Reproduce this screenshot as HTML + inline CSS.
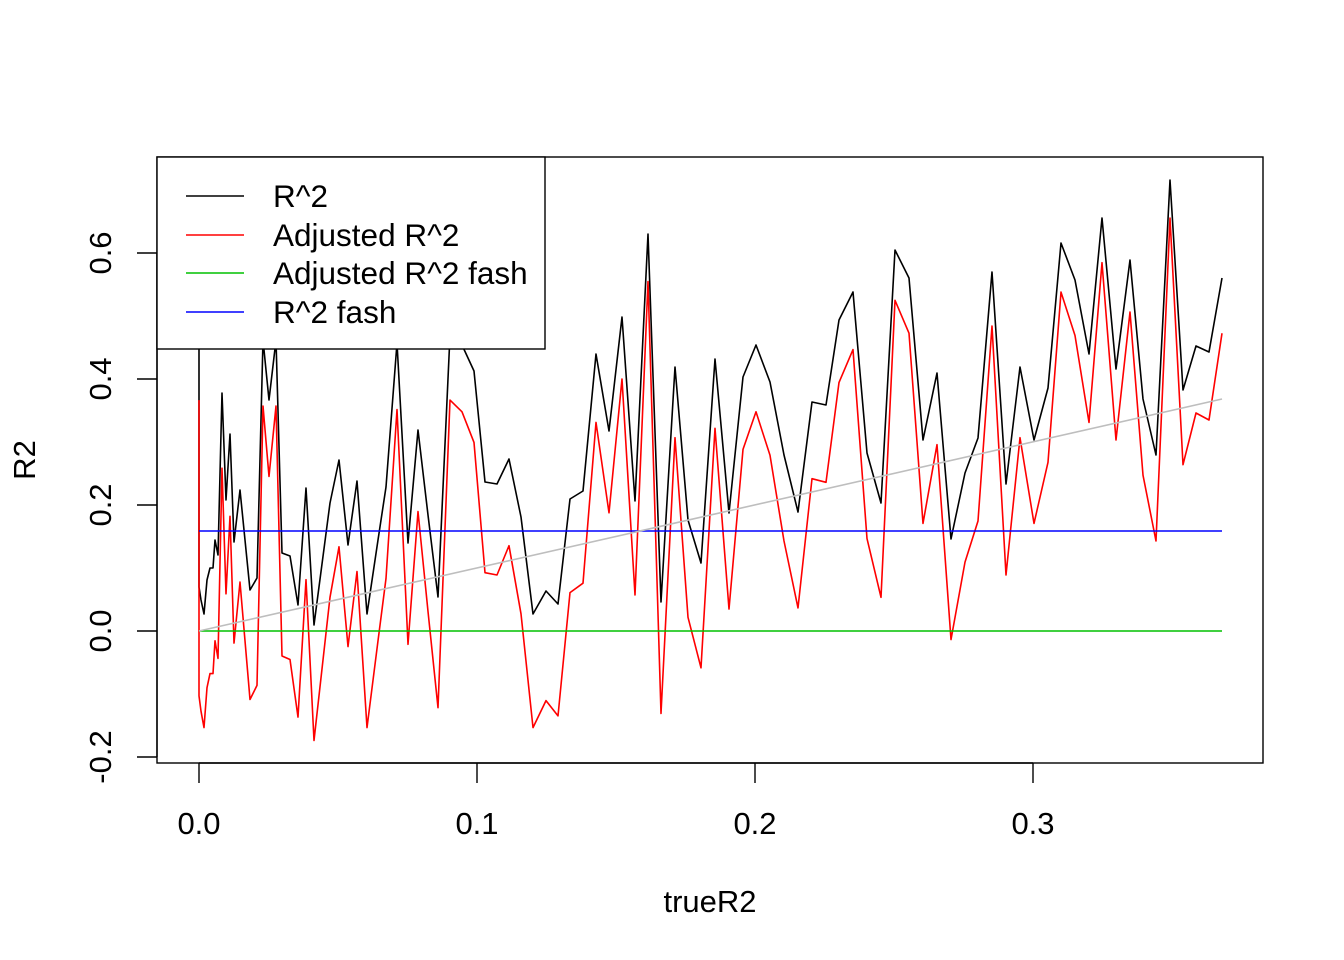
<!DOCTYPE html>
<html><head><meta charset="utf-8"><style>
html,body{margin:0;padding:0;background:#fff;}
svg{display:block;font-family:"Liberation Sans",Arial,sans-serif;}
</style></head><body>
<svg id="s" width="1344" height="960" viewBox="0 0 1344 960" xmlns="http://www.w3.org/2000/svg">
<rect width="1344" height="960" fill="#fff"/>
<g id="lines"></g>
<line x1="199" y1="631" x2="1222" y2="631" stroke="#00c000" stroke-width="1.6"/>
<line x1="199" y1="531" x2="1222" y2="531" stroke="#0000ff" stroke-width="1.6"/>
<line x1="199" y1="631" x2="1222" y2="399" stroke="#bebebe" stroke-width="1.6"/>
<rect x="157" y="157" width="1106" height="606" fill="none" stroke="#000" stroke-width="1.4"/>
<g stroke="#000" stroke-width="1.4">
<line x1="199" y1="763" x2="1033" y2="763"/>
<line x1="199" y1="763" x2="199" y2="783"/><line x1="477" y1="763" x2="477" y2="783"/>
<line x1="755" y1="763" x2="755" y2="783"/><line x1="1033" y1="763" x2="1033" y2="783"/>
<line x1="157" y1="253" x2="157" y2="757"/>
<line x1="137" y1="757" x2="157" y2="757"/><line x1="137" y1="631" x2="157" y2="631"/>
<line x1="137" y1="505" x2="157" y2="505"/><line x1="137" y1="379" x2="157" y2="379"/>
<line x1="137" y1="253" x2="157" y2="253"/>
</g>
<g font-size="31" text-anchor="middle" fill="#000">
<text x="199" y="834">0.0</text><text x="477" y="834">0.1</text>
<text x="755" y="834">0.2</text><text x="1033" y="834">0.3</text>
<text transform="translate(111,757) rotate(-90)">-0.2</text>
<text transform="translate(111,631) rotate(-90)">0.0</text>
<text transform="translate(111,505) rotate(-90)">0.2</text>
<text transform="translate(111,379) rotate(-90)">0.4</text>
<text transform="translate(111,253) rotate(-90)">0.6</text>
<text x="710" y="912">trueR2</text>
<text transform="translate(35,460) rotate(-90)">R2</text>
</g>
<rect x="157" y="157" width="388" height="192" fill="#fff" stroke="#000" stroke-width="1.4"/>
<g stroke-width="1.6">
<line x1="186" y1="196" x2="244" y2="196" stroke="#000"/>
<line x1="186" y1="235" x2="244" y2="235" stroke="#ff0000"/>
<line x1="186" y1="273" x2="244" y2="273" stroke="#00c000"/>
<line x1="186" y1="312" x2="244" y2="312" stroke="#0000ff"/>
</g>
<g font-size="31.5" fill="#000">
<text x="273" y="207">R^2</text>
<text x="273" y="246">Adjusted R^2</text>
<text x="273" y="284">Adjusted R^2 fash</text>
<text x="273" y="323">R^2 fash</text>
</g>
</svg>
<script>
var b=[[199,335],[199,587],[201,600],[204,614],[207,580],[210,568],[213,568],[215,540],[218,555],[222,393],[226,500],[230,434],[234,542],[240,490],[250,590],[257,578],[263,340],[269,400],[276,340],[282,553],[290,556],[298,605],[306,488],[314,625],[330,503],[339,460],[348,545],[357,481],[367,614],[378,540],[386,487],[397,343],[408,543],[418,430],[428,515],[438,597],[450,335],[462,345],[474,371],[485,482],[497,484],[509,459],[521,517],[533,614],[546,591],[558,604],[570,499],[583,491],[596,354],[609,431],[622,317],[635,501],[648,234],[661,602],[675,367],[688,520],[701,563],[715,359],[729,513],[743,377],[756,345],[770,382],[784,455],[798,512],[812,402],[826,405],[839,320],[853,292],[867,453],[881,503],[895,250],[909,278],[923,440],[937,373],[951,539],[965,473],[978,438],[992,272],[1006,484],[1020,367],[1034,440],[1048,388],[1061,243],[1075,280],[1089,354],[1102,218],[1116,369],[1130,260],[1143,399],[1156,455],[1170,180],[1183,390],[1196,346],[1209,352],[1222,278]];
var r=b.map(function(p){return [p[0],6.8+1.174*p[1]];});
function pl(a,c){return '<polyline fill="none" stroke="'+c+'" stroke-width="1.6" stroke-linejoin="round" points="'+a.map(function(p){return p[0]+','+p[1].toFixed(1);}).join(' ')+'"/>';}
document.getElementById('lines').innerHTML=pl(b,'#000')+pl(r,'#ff0000');
</script>
</body></html>
